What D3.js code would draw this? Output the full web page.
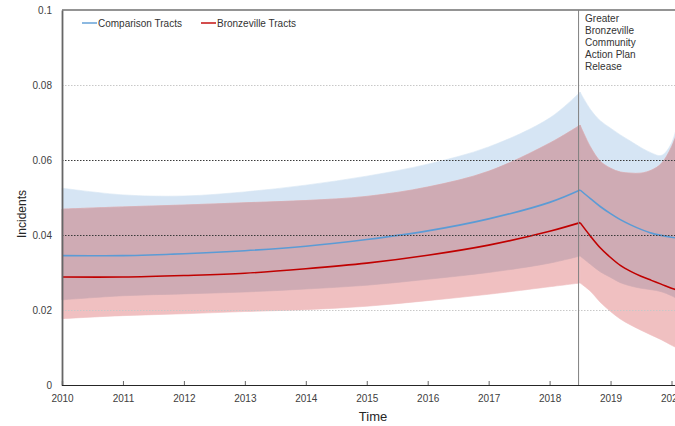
<!DOCTYPE html>
<html>
<head>
<meta charset="utf-8">
<script src="https://cdn.jsdelivr.net/npm/d3@7"></script>
<style>
  body { margin: 0; background: #fff; }
  svg { display: block; font-family: "Liberation Sans", Arial, sans-serif; }
</style>
</head>
<body>
<div id="chart"></div>
<script>
// time points (years), peak at the plan release
const years = [2010, 2011, 2012, 2013, 2014, 2015, 2016, 2017, 2018, 2018.5,
  2018.67, 2018.83, 2019.0, 2019.16, 2019.33, 2019.5, 2019.67, 2019.83, 2020.0, 2020.15]
const peakIndex = 9

const comparisonMean = [0.0345, 0.0345, 0.0350, 0.0358, 0.0370, 0.0388, 0.0411, 0.0443, 0.0487, 0.0520,
  0.0497, 0.0476, 0.0457, 0.0441, 0.0427, 0.0415, 0.0405, 0.0399, 0.0394, 0.0391]
const comparisonUpper = [0.0525, 0.0507, 0.0504, 0.0515, 0.0533, 0.0557, 0.0589, 0.0635, 0.0712, 0.0781,
  0.0735, 0.0705, 0.0685, 0.0667, 0.0650, 0.0633, 0.0619, 0.0612, 0.0645, 0.0740]
const comparisonLower = [0.0227, 0.0238, 0.0243, 0.0248, 0.0256, 0.0266, 0.0282, 0.0300, 0.0325, 0.0344,
  0.0322, 0.0302, 0.0287, 0.0273, 0.0264, 0.0258, 0.0254, 0.0249, 0.0238, 0.0225]

const bronzevilleMean = [0.0288, 0.0288, 0.0292, 0.0298, 0.0310, 0.0325, 0.0346, 0.0373, 0.0410, 0.0433,
  0.0397, 0.0366, 0.0340, 0.0319, 0.0303, 0.0290, 0.0279, 0.0269, 0.0258, 0.0250]
const bronzevilleUpper = [0.0469, 0.0475, 0.0480, 0.0486, 0.0492, 0.0503, 0.0528, 0.0570, 0.0645, 0.0693,
  0.0635, 0.0597, 0.0578, 0.0568, 0.0565, 0.0565, 0.0573, 0.0590, 0.0635, 0.0700]
const bronzevilleLower = [0.0177, 0.0185, 0.0190, 0.0196, 0.0201, 0.0210, 0.0225, 0.0242, 0.0262, 0.0272,
  0.0250, 0.0221, 0.0196, 0.0176, 0.0160, 0.0146, 0.0133, 0.0121, 0.0106, 0.0094]

const yTicks = [0, 0.02, 0.04, 0.06, 0.08, 0.1]
const xTicks = [2010, 2011, 2012, 2013, 2014, 2015, 2016, 2017, 2018, 2019, 2020]
const seriesNames = ["Comparison Tracts", "Bronzeville Tracts"]
const releaseYear = 2018.5
const releaseLabel = ["Greater", "Bronzeville", "Community", "Action Plan", "Release"]

const width = 675
const height = 426
const plotLeft = 62, plotTop = 10, plotBottom = 385

const x = d3.scaleLinear().domain([2010, 2021]).range([plotLeft, plotLeft + 11 * 60.95])
const y = d3.scaleLinear().domain([0, 0.1]).range([plotBottom, plotTop])

const svg = d3.select("#chart").append("svg")
  .attr("width", width)
  .attr("height", height)

const rows = years.map((t, i) => ({
  t: t,
  cm: comparisonMean[i], cu: comparisonUpper[i], cl: comparisonLower[i],
  bm: bronzevilleMean[i], bu: bronzevilleUpper[i], bl: bronzevilleLower[i]
}))
// split at the peak so the corner stays sharp
const segments = [rows.slice(0, peakIndex + 1), rows.slice(peakIndex)]
const curve = d3.curveCatmullRom.alpha(0.5)

const bands = [
  { lo: "cl", hi: "cu", fill: "#d6e5f4" },   // comparison only
  { lo: "bl", hi: "bu", fill: "#f0c0c1" },   // bronzeville only
  { lo: "cl", hi: "bu", fill: "#cfabb4" }    // overlap
]

const plot = svg.append("g")

bands.forEach(b => {
  const area = d3.area()
    .curve(curve)
    .x(d => x(d.t))
    .y0(d => y(d[b.lo]))
    .y1(d => y(d[b.hi]))
  segments.forEach(seg => {
    plot.append("path")
      .attr("d", area(seg))
      .attr("fill", b.fill)
      .attr("stroke", b.fill)
      .attr("stroke-width", 0.6)
  })
})

// grid lines
const gridStyle = { 0.02: "#c8c8c8", 0.04: "#3a3a3a", 0.06: "#3a3a3a", 0.08: "#c8c8c8" }
svg.append("g")
  .selectAll("line")
  .data(yTicks.filter(d => d > 0 && d < 0.1))
  .enter()
  .append("line")
  .attr("x1", plotLeft)
  .attr("x2", width)
  .attr("y1", d => y(d) + 0.5)
  .attr("y2", d => y(d) + 0.5)
  .attr("stroke", d => gridStyle[d])
  .attr("stroke-width", 1)
  .attr("stroke-dasharray", "1.5,1.5")

// mean lines
const lines = [
  { key: "cm", color: "#5b9bd5" },
  { key: "bm", color: "#c00000" }
]
lines.forEach(l => {
  const line = d3.line()
    .curve(curve)
    .x(d => x(d.t))
    .y(d => y(d[l.key]))
  segments.forEach(seg => {
    plot.append("path")
      .attr("d", line(seg))
      .attr("fill", "none")
      .attr("stroke", l.color)
      .attr("stroke-width", 1.6)
  })
})

// top border
svg.append("line")
  .attr("x1", plotLeft).attr("x2", width)
  .attr("y1", plotTop).attr("y2", plotTop)
  .attr("stroke", "#707070")
  .attr("stroke-width", 1.5)

// axes
const yAxis = svg.append("g")
  .attr("transform", `translate(${plotLeft},0)`)
  .call(d3.axisLeft(y).tickValues(yTicks).tickSize(0).tickPadding(10)
    .tickFormat(d => d === 0 ? "0" : String(+d.toFixed(2))))
yAxis.select(".domain").attr("stroke", "#666").attr("stroke-width", 1.8)
yAxis.selectAll("text").attr("fill", "#404040").style("font-size", "10px")

const xAxis = svg.append("g")
  .attr("transform", `translate(0,${plotBottom})`)
  .call(d3.axisBottom(x).tickValues(xTicks).tickSize(-4).tickPadding(10).tickFormat(d3.format("d")))
xAxis.select(".domain").attr("stroke", "#262626").attr("stroke-width", 1.2)
xAxis.selectAll(".tick line").attr("stroke", "#666")
xAxis.selectAll("text").attr("fill", "#404040").style("font-size", "10px")

// release marker
svg.append("line")
  .attr("x1", x(releaseYear) - 1.5).attr("x2", x(releaseYear) - 1.5)
  .attr("y1", plotTop).attr("y2", plotBottom)
  .attr("stroke", "#808080")
  .attr("stroke-width", 1)

svg.append("g")
  .selectAll("text")
  .data(releaseLabel)
  .enter()
  .append("text")
  .attr("x", x(releaseYear) + 5)
  .attr("y", (d, i) => 22 + i * 12)
  .attr("fill", "#333")
  .style("font-size", "10px")
  .text(d => d)

// axis titles
svg.append("text")
  .attr("x", 373)
  .attr("y", 421)
  .attr("text-anchor", "middle")
  .attr("fill", "#262626")
  .style("font-size", "13px")
  .text("Time")

svg.append("text")
  .attr("transform", "translate(26,214) rotate(-90)")
  .attr("text-anchor", "middle")
  .attr("fill", "#262626")
  .style("font-size", "12px")
  .text("Incidents")

// legend
const legendX = [82, 201]
const legend = svg.append("g")
lines.forEach((l, i) => {
  legend.append("line")
    .attr("x1", legendX[i]).attr("x2", legendX[i] + 15)
    .attr("y1", 23).attr("y2", 23)
    .attr("stroke", l.color)
    .attr("stroke-width", 1.4)
  legend.append("text")
    .attr("x", legendX[i] + 16)
    .attr("y", 26.5)
    .attr("fill", "#333")
    .style("font-size", "10px")
    .text(seriesNames[i])
})
</script>
</body>
</html>
